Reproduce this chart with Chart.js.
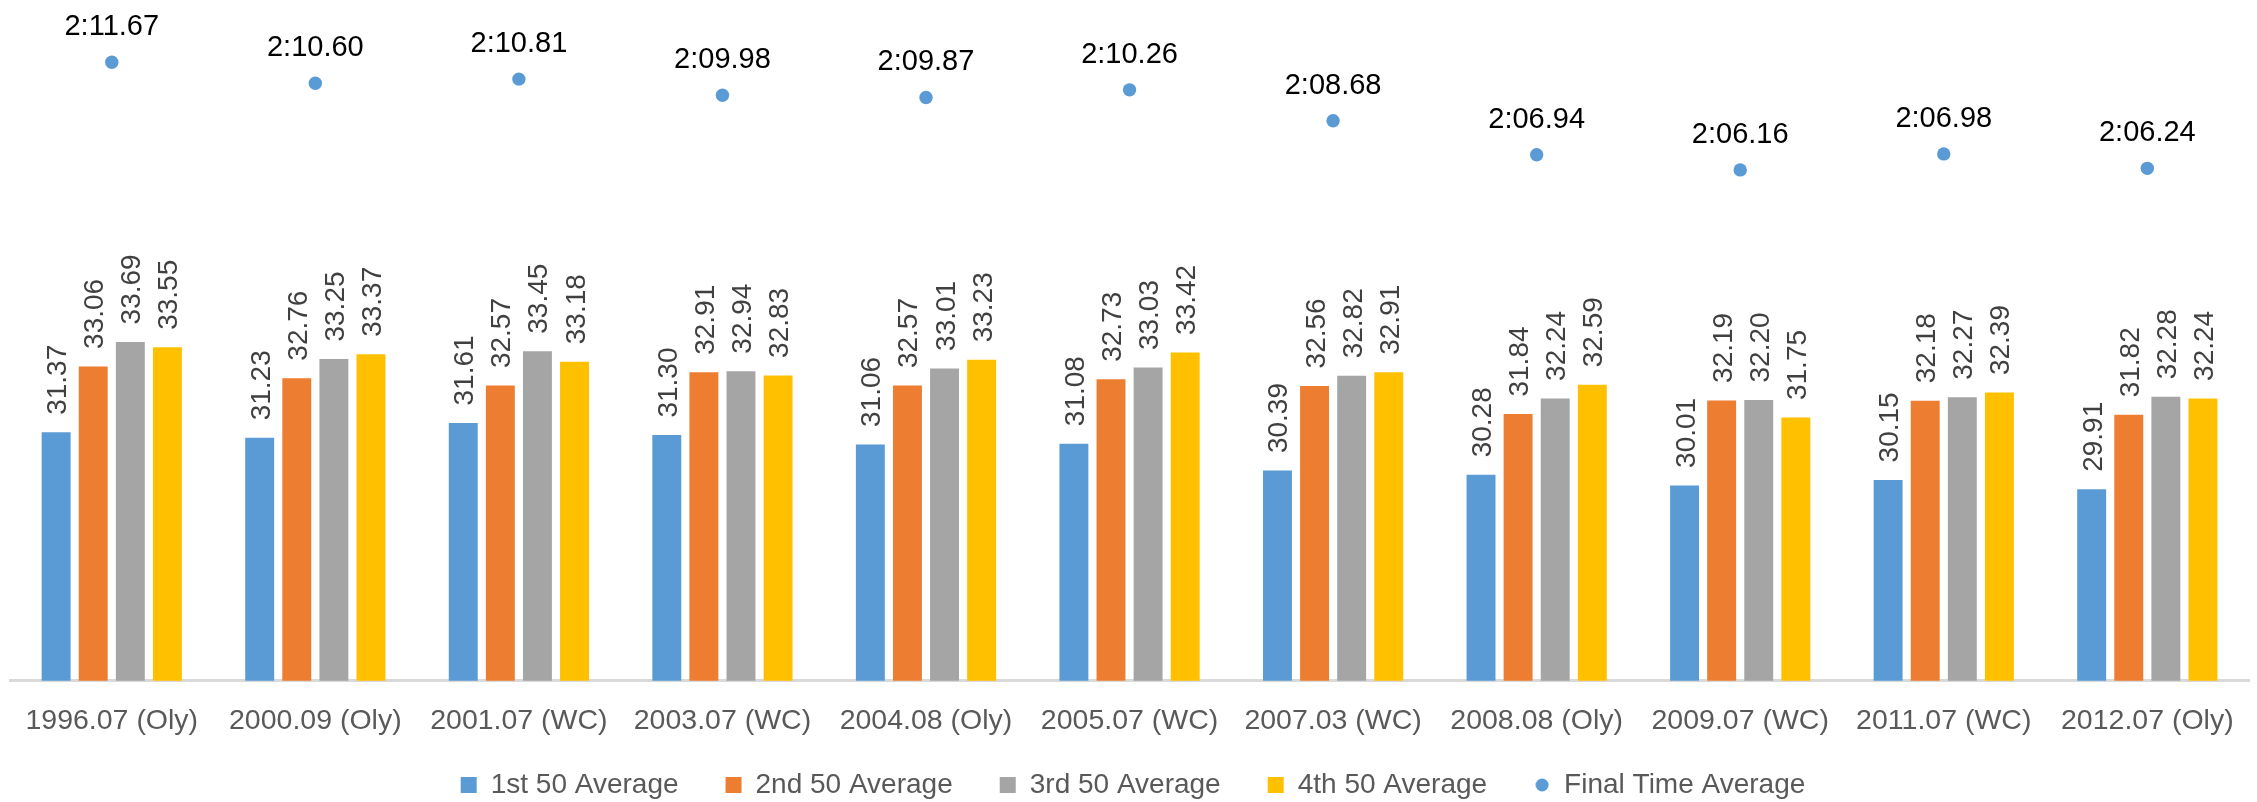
<!DOCTYPE html>
<html>
<head>
<meta charset="utf-8">
<script src="https://cdn.jsdelivr.net/npm/chart.js@4/dist/chart.umd.min.js"></script>
<style>
  html, body { margin: 0; padding: 0; background: #ffffff; }
  #wrap { position: relative; width: 2257px; height: 802px; }
</style>
</head>
<body>
<div id="wrap"><canvas id="chart"></canvas></div>
<script>
// Meet / championship labels
const categories = [
  "1996.07 (Oly)", "2000.09 (Oly)", "2001.07 (WC)", "2003.07 (WC)",
  "2004.08 (Oly)", "2005.07 (WC)", "2007.03 (WC)", "2008.08 (Oly)",
  "2009.07 (WC)", "2011.07 (WC)", "2012.07 (Oly)"
];

// Split averages in seconds for each 50 m
const first50  = [31.37, 31.23, 31.61, 31.30, 31.06, 31.08, 30.39, 30.28, 30.01, 30.15, 29.91];
const second50 = [33.06, 32.76, 32.57, 32.91, 32.57, 32.73, 32.56, 31.84, 32.19, 32.18, 31.82];
const third50  = [33.69, 33.25, 33.45, 32.94, 33.01, 33.03, 32.82, 32.24, 32.20, 32.27, 32.28];
const fourth50 = [33.55, 33.37, 33.18, 32.83, 33.23, 33.42, 32.91, 32.59, 31.75, 32.39, 32.24];

// Final time average in seconds (shown as m:ss.xx)
const finalTime = [131.67, 130.60, 130.81, 129.98, 129.87, 130.26, 128.68, 126.94, 126.16, 126.98, 126.24];

const FONT = "'Liberation Sans', Arial, sans-serif";
const TEXT_GREY = "#595959";
const LEGEND_PAD = 47;
const LEGEND_TEXT_Y = 785;

function formatTime(v) {
  const m = Math.floor(v / 60);
  const s = (v - m * 60).toFixed(2).padStart(5, "0");
  return m + ":" + s;
}

// Small circle used as the legend marker of the final-time series
const legendDot = document.createElement("canvas");
legendDot.width = 14; legendDot.height = 14;
(function () {
  const c = legendDot.getContext("2d");
  c.fillStyle = "#5B9BD5";
  c.beginPath(); c.arc(7, 7, 6.5, 0, Math.PI * 2); c.fill();
})();

// Value labels: rotated split values above bars, times above the dots
const valueLabels = {
  id: "valueLabels",
  afterDatasetsDraw(chart) {
    const ctx = chart.ctx;
    chart.data.datasets.forEach((ds, di) => {
      const meta = chart.getDatasetMeta(di);
      if (meta.hidden) return;
      meta.data.forEach((el, i) => {
        const v = ds.data[i];
        ctx.save();
        if (meta.type === "bar") {
          ctx.font = "28px " + FONT;
          ctx.fillStyle = "#404040";
          ctx.textAlign = "left";
          ctx.textBaseline = "alphabetic";
          ctx.translate(el.x + 10, el.y - 17.5);
          ctx.rotate(-Math.PI / 2);
          ctx.fillText(v.toFixed(2), 0, 0);
        } else {
          ctx.font = "29px " + FONT;
          ctx.fillStyle = "#000000";
          ctx.textAlign = "center";
          ctx.textBaseline = "alphabetic";
          ctx.fillText(formatTime(v), el.x, el.y - 27);
        }
        ctx.restore();
      });
    });
  }
};

// Let the legend box start higher (its bottom stays at the canvas edge),
// so the legend row sits close under the axis labels
const legendLift = {
  id: "legendLift",
  afterLayout(chart) {
    const lg = chart.legend;
    if (!lg) return;
    lg.top = LEGEND_TEXT_Y - 14 - LEGEND_PAD;
  }
};

const barCommon = {
  type: "bar",
  yAxisID: "y",
  categoryPercentage: 0.729,
  barPercentage: 0.78,
  pointStyle: "rect",
  borderWidth: 0
};

new Chart(document.getElementById("chart"), {
  data: {
    labels: categories,
    datasets: [
      Object.assign({ label: "1st 50 Average", data: first50,  backgroundColor: "#5B9BD5", order: 2 }, barCommon),
      Object.assign({ label: "2nd 50 Average", data: second50, backgroundColor: "#ED7D31", order: 2 }, barCommon),
      Object.assign({ label: "3rd 50 Average", data: third50,  backgroundColor: "#A5A5A5", order: 2 }, barCommon),
      Object.assign({ label: "4th 50 Average", data: fourth50, backgroundColor: "#FFC000", order: 2 }, barCommon),
      {
        type: "line",
        label: "Final Time Average",
        data: finalTime,
        yAxisID: "y2",
        showLine: false,
        pointStyle: "circle",
        pointRadius: 6.7,
        pointHoverRadius: 6.7,
        pointBackgroundColor: "#5B9BD5",
        pointBorderWidth: 0,
        borderColor: "#5B9BD5",
        backgroundColor: "#5B9BD5",
        order: 1
      }
    ]
  },
  options: {
    responsive: true,
    maintainAspectRatio: false,
    animation: false,
    layout: { autoPadding: false, padding: { left: 10, right: 1, top: 1, bottom: 0 } },
    scales: {
      x: {
        grid: { display: false, drawTicks: false },
        border: { display: true, color: "#D9D9D9", width: 3 },
        ticks: {
          color: TEXT_GREY,
          font: { family: FONT, size: 28.5 },
          padding: 23.3,
          maxRotation: 0,
          autoSkip: false
        },
        afterFit(scale) { scale.height = 60; }
      },
      y: {
        display: false,
        min: 25,
        max: 42.43
      },
      y2: {
        display: false,
        position: "right",
        min: 100,
        max: 134.81
      }
    },
    plugins: {
      tooltip: { enabled: false },
      legend: {
        position: "bottom",
        maxHeight: 61.2,
        labels: {
          color: TEXT_GREY,
          font: { family: FONT, size: 28 },
          usePointStyle: true,
          boxWidth: 16,
          boxHeight: 16,
          padding: LEGEND_PAD,
          sort: (a, b) => a.datasetIndex - b.datasetIndex,
          generateLabels(chart) {
            const items = Chart.defaults.plugins.legend.labels.generateLabels(chart);
            items.forEach(it => {
              if (it.text === "Final Time Average") it.pointStyle = legendDot;
            });
            return items;
          }
        }
      }
    }
  },
  plugins: [valueLabels, legendLift]
});
</script>
</body>
</html>
